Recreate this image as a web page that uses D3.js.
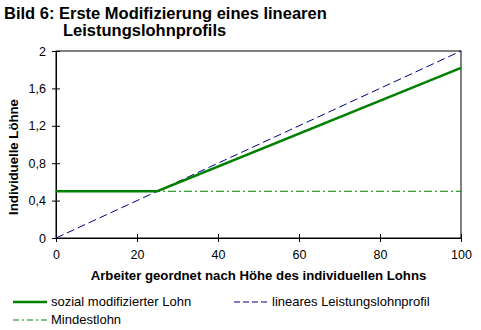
<!DOCTYPE html>
<html><head><meta charset="utf-8">
<script src="https://cdn.jsdelivr.net/npm/d3@7"></script>
<style>body{margin:0;background:#fff}svg{display:block;font-family:"Liberation Sans",Arial,sans-serif}</style>
</head><body><svg id="c" width="481" height="330"></svg>
<script>
const xTicks = [0, 20, 40, 60, 80, 100];
const yTicks = [0, 0.4, 0.8, 1.2, 1.6, 2];
const yTickLabels = ["0", "0,4", "0,8", "1,2", "1,6", "2"];
const sozialX = [0, 25, 100];
const sozialY = [0.5, 0.5, 1.82];
const linearX = [0, 100];
const linearY = [0, 2];
const mindestX = [0, 100];
const mindestY = [0.5, 0.5];

const svg = d3.select("#c");
const L = 56, R = 461, T = 51, B = 238;
const x = d3.scaleLinear().domain([0, 100]).range([L, R]);
const y = d3.scaleLinear().domain([0, 2]).range([B, T]);

// title
svg.append("text").attr("x", 4).attr("y", 19).attr("font-size", 16.5).attr("font-weight", "bold").text("Bild 6: Erste Modifizierung eines linearen");
svg.append("text").attr("x", 63).attr("y", 36).attr("font-size", 16.5).attr("font-weight", "bold").text("Leistungslohnprofils");

// frame
svg.append("rect").attr("x", L).attr("y", T).attr("width", R - L).attr("height", B - T).attr("fill", "none").attr("stroke", "#000").attr("stroke-width", 1);

// axes
const xa = svg.append("g").attr("transform", `translate(0,${B})`)
  .call(d3.axisBottom(x).tickValues(xTicks).tickSize(4).tickFormat(d3.format("d")));
const ya = svg.append("g").attr("transform", `translate(${L},0)`)
  .call(d3.axisLeft(y).tickValues(yTicks).tickSize(4).tickFormat((d, i) => yTickLabels[i]));
[xa, ya].forEach(g => {
  g.select(".domain").attr("stroke", "#000");
  g.selectAll(".tick line").attr("stroke", "#000");
  g.selectAll("text").attr("font-size", 12.5).attr("font-family", "Liberation Sans, Arial, sans-serif").attr("fill", "#000");
});
xa.selectAll(".tick line").attr("y1", -4).attr("y2", 4);
xa.selectAll(".tick text").attr("y", 12);
ya.selectAll(".tick line").attr("x1", -4).attr("x2", 4);
ya.selectAll(".tick text").attr("x", -10);

// axis labels
svg.append("text").attr("x", 258.5).attr("y", 280).attr("text-anchor", "middle").attr("font-size", 13.2).attr("font-weight", "bold").text("Arbeiter geordnet nach Höhe des individuellen Lohns");
svg.append("text").attr("transform", `translate(18,157) rotate(-90)`).attr("text-anchor", "middle").attr("font-size", 13.2).attr("font-weight", "bold").text("Individuelle Löhne");

const line = d3.line().x(d => x(d[0])).y(d => y(d[1]));
const zip = (a, b) => a.map((v, i) => [v, b[i]]);

svg.append("path").attr("d", line(zip(mindestX, mindestY))).attr("fill", "none").attr("stroke", "#008000").attr("stroke-width", 1).attr("stroke-dasharray", "8,3,2,3");
svg.append("path").attr("d", line(zip(linearX, linearY))).attr("fill", "none").attr("stroke", "#000080").attr("stroke-width", 1).attr("stroke-dasharray", "8,4");
svg.append("path").attr("d", line(zip(sozialX, sozialY))).attr("fill", "none").attr("stroke", "#008000").attr("stroke-width", 2.5);

// legend
const lg = svg.append("g").attr("font-size", 13);
lg.append("line").attr("x1", 13).attr("x2", 47).attr("y1", 302).attr("y2", 302).attr("stroke", "#008000").attr("stroke-width", 2.5);
lg.append("text").attr("x", 51).attr("y", 306).text("sozial modifizierter Lohn");
lg.append("line").attr("x1", 234).attr("x2", 268).attr("y1", 302).attr("y2", 302).attr("stroke", "#000080").attr("stroke-width", 1).attr("stroke-dasharray", "6,3");
lg.append("text").attr("x", 272).attr("y", 306).text("lineares Leistungslohnprofil");
lg.append("line").attr("x1", 13).attr("x2", 47).attr("y1", 320).attr("y2", 320).attr("stroke", "#008000").attr("stroke-width", 1).attr("stroke-dasharray", "6,3,2,3");
lg.append("text").attr("x", 51).attr("y", 324).text("Mindestlohn");
</script></body></html>
